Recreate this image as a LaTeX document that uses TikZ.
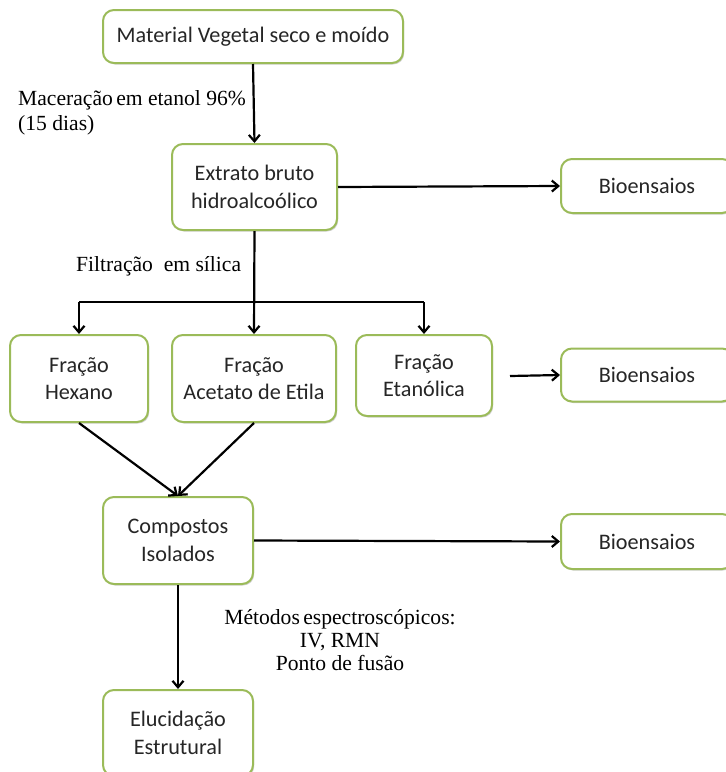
\documentclass[tikz,border=0pt]{standalone}
\usepackage{fontspec}
\setmainfont{Liberation Serif}
\newfontfamily\boxfont{Carlito}
\usetikzlibrary{arrows.meta,shadows}
\definecolor{boxgreen}{HTML}{9BBB59}
\definecolor{boxtext}{HTML}{262626}
\tikzset{
  stepbox/.style={draw=boxgreen, line width=2pt, rounded corners=11pt, fill=white,
    align=center, inner sep=0pt, text=boxtext,
    font=\boxfont\fontsize{22.2}{27.5}\selectfont,
    drop shadow={shadow xshift=1.2pt, shadow yshift=-1.5pt, opacity=0.18, fill=black}},
  arr/.style={-{Straight Barb[length=6.5pt,width=11pt,line width=2.2pt]}, line width=2.2pt, black},
  plain/.style={line width=2.2pt, black},
  lbl/.style={inner sep=0pt, font=\fontsize{21.6}{25}\selectfont, text=black}
}
\begin{document}
\begin{tikzpicture}[x=1pt,y=-1pt]
\useasboundingbox (0,0) rectangle (726,772);
\clip (0,0) rectangle (726,772);
% nodes
\node[stepbox, minimum width=300pt, minimum height=53pt] (m) at (253,36.5) {Material Vegetal seco e moído};
\node[stepbox, minimum width=165pt, minimum height=86pt] (e) at (254.5,187) {Extrato bruto\\hidroalcoólico};
\node[stepbox, minimum width=172pt, minimum height=54pt] (b1) at (647,186) {Bioensaios};
\node[stepbox, minimum width=138pt, minimum height=87pt] (fh) at (79,378.5) {Fração\\Hexano};
\node[stepbox, minimum width=164pt, minimum height=87pt] (fa) at (254,378.5) {Fração\\Acetato de Etila};
\node[stepbox, minimum width=136pt, minimum height=81pt] (fe) at (424,375.5) {Fração\\Etanólica};
\node[stepbox, minimum width=172pt, minimum height=53pt] (b2) at (647,375) {Bioensaios};
\node[stepbox, minimum width=150pt, minimum height=87pt] (cp) at (178,540.5) {Compostos\\Isolados};
\node[stepbox, minimum width=172pt, minimum height=55pt] (b3) at (647,541.5) {Bioensaios};
\node[stepbox, minimum width=150pt, minimum height=86pt] (el) at (178,733) {Elucidação\\Estrutural};
% labels
\node[lbl, anchor=west, align=left] (lmac) at (18,112.5) {Maceração\kern-2pt\ em etanol 96\%\\(15 dias)};
\node[lbl, anchor=west] (lfil) at (76,266) {Filtração\ \ em sílica};
\node[lbl, align=center, font=\fontsize{21.6}{23}\selectfont] (lmet) at (340,640) {Métodos\kern-2pt\ espectroscópicos:\\IV, RMN\\Ponto de fusão};
% connectors
\draw[arr] (m.south) -- (e.north);
\draw[arr] (e.east) -- (b1.west);
\coordinate (hl) at (79,302);
\coordinate (hr) at (424,302);
\draw[plain] (hl) -- (hr);
\draw[arr] (e.south) -- (fa.north);
\draw[arr] (hl) -- (fh.north);
\draw[arr] (hr) -- (fe.north);
\coordinate (s2) at (510,376);
\draw[arr] (s2) -- (b2.west);
\draw[arr] (fh.south) -- (cp.north);
\draw[arr] (fa.south) -- (cp.north);
\draw[arr] (cp.east) -- (b3.west);
\draw[arr] (cp.south) -- (el.north);
\end{tikzpicture}
\end{document}
